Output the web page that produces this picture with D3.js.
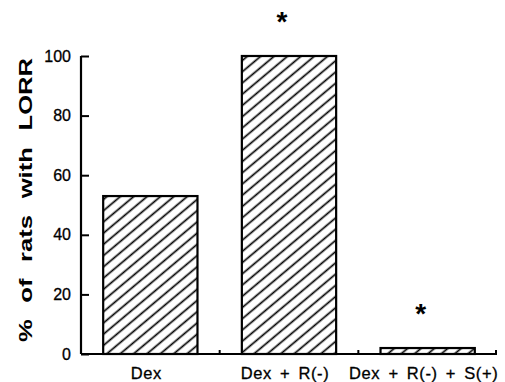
<!DOCTYPE html>
<html>
<head>
<meta charset="utf-8">
<script src="https://cdn.jsdelivr.net/npm/d3@7"></script>
<style>
  html, body { margin: 0; padding: 0; background: #fff; }
  svg { display: block; font-family: "Liberation Sans", Arial, Helvetica, sans-serif; }
</style>
</head>
<body>
<svg id="chart" width="505" height="382"></svg>
<script>
const categories = ["Dex", "Dex + R(-)", "Dex + R(-) + S(+)"];
const values = [53, 100, 2];
const significant = [false, true, true];
const yTicks = [0, 20, 40, 60, 80, 100];
const yTitle = "% of rats with LORR";

const svg = d3.select("#chart");
const mLeft = 81, mRight = 497, mTop = 56, mBottom = 354;

const x = d3.scaleBand().domain(categories).range([mLeft, mRight])
  .paddingInner(0.32).paddingOuter(0.16);
const y = d3.scaleLinear().domain([0, 100]).range([mBottom, mTop]);

// hatch pattern
const defs = svg.append("defs");
const pat = defs.append("pattern")
  .attr("id", "hatch").attr("patternUnits", "userSpaceOnUse")
  .attr("width", 10).attr("height", 8.6)
  .attr("patternTransform", "rotate(-40)");
pat.append("rect").attr("width", 10).attr("height", 8.6).attr("fill", "#fff");
pat.append("line").attr("x1", 0).attr("x2", 10).attr("y1", 4.3).attr("y2", 4.3)
  .attr("stroke", "#000").attr("stroke-width", 1.7);

// bars
svg.append("g").selectAll("rect").data(values).join("rect")
  .attr("x", (d, i) => x(categories[i]))
  .attr("y", d => y(d))
  .attr("width", x.bandwidth())
  .attr("height", d => y(0) - y(d))
  .attr("fill", "url(#hatch)")
  .attr("stroke", "#000").attr("stroke-width", 2.2);

// y axis
const yAxis = d3.axisRight(y).tickValues(yTicks).tickSize(8).tickFormat("");
const gy = svg.append("g").attr("transform", `translate(${mLeft},0)`).call(yAxis);
gy.select(".domain").attr("stroke-width", 2.2).attr("d", `M0,${mBottom}V${mTop}`);
gy.selectAll(".tick line").attr("stroke-width", 2);
svg.append("g").selectAll("text").data(yTicks).join("text")
  .attr("x", mLeft - 10).attr("y", d => y(d)).attr("dy", "0.35em")
  .attr("text-anchor", "end").attr("font-size", 16)
  .attr("stroke", "#000").attr("stroke-width", 0.3)
  .text(d => d);

// x axis
const boundaries = categories.map(c => x(c) + x.bandwidth() + x.step() * x.paddingInner() / 2);
const gx = svg.append("g");
gx.append("line").attr("x1", mLeft).attr("x2", mRight).attr("y1", y(0)).attr("y2", y(0))
  .attr("stroke", "#000").attr("stroke-width", 2.2);
gx.selectAll("line.tk").data(boundaries).join("line").attr("class", "tk")
  .attr("x1", d => Math.min(d, mRight - 1)).attr("x2", d => Math.min(d, mRight - 1))
  .attr("y1", y(0)).attr("y2", y(0) - 4)
  .attr("stroke", "#000").attr("stroke-width", 2);
gx.selectAll("text").data(categories).join("text")
  .attr("x", d => x(d) + x.bandwidth() / 2 - 4).attr("y", 379)
  .attr("text-anchor", "middle").attr("font-size", 16.5)
  .attr("letter-spacing", 0.6).attr("word-spacing", 3)
  .attr("stroke", "#000").attr("stroke-width", 0.3)
  .text(d => d);

// significance asterisks
svg.append("g").selectAll("text").data(values.map((v, i) => ({v, i})).filter(d => significant[d.i]))
  .join("text")
  .attr("x", d => x(categories[d.i]) + x.bandwidth() / 2 - 7)
  .attr("y", d => y(d.v) - 38 + 13)
  .attr("text-anchor", "middle").attr("font-size", 28).attr("font-weight", "bold")
  .text("*");

// y title
svg.append("text")
  .attr("transform", `translate(32,200) rotate(-90) scale(1.35,1)`)
  .attr("text-anchor", "middle").attr("font-size", 19).attr("font-weight", "bold")
  .attr("word-spacing", 7)
  .text(yTitle);
</script>
</body>
</html>
